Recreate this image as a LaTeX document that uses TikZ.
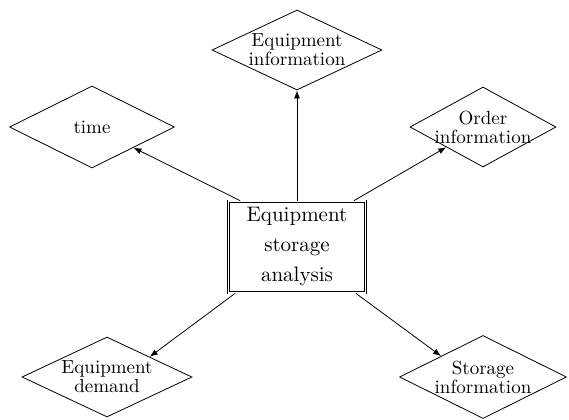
\documentclass[tikz,border=0pt]{standalone}
\usepackage{tikz}
\usetikzlibrary{%
    arrows.meta,
    shapes.geometric,
    positioning
}

\begin{document}
\begin{tikzpicture}[x=0.5pt, y=-0.5pt]
  \def\dh{40pt}
  \def\bw{68.5pt}
  \def\bh{44.5pt}

  \tikzset{
    entity/.style = { diamond, draw, thin, aspect=2
                    , inner xsep=-6pt, inner ysep=0pt, align=center
                    , font=\fontsize{9.5}{9.5}\selectfont, minimum height=\dh },
    core/.style   = { rectangle, draw, thin, double, double distance=0.7pt
                    , align=center, font=\fontsize{10.5}{15}\selectfont
                    , minimum width=\bw, minimum height=\bh },
    link/.style   = { -{Latex[length=4pt,width=3pt]}, thin }
  }

  \useasboundingbox (0,0) rectangle (569,419);

  \node[entity, minimum width=85pt] (equipinfo) at (297,50)
    {Equipment\\information};
  \node[entity, minimum width=82.5pt, minimum height=41pt] (time) at (92,127)
    {time};
  \node[entity, minimum width=73pt] (orderinfo) at (483,127)
    {Order\\information};
  \node[core] (analysis) at (297,247)
    {Equipment\\storage\\analysis};
  \node[entity, minimum width=85pt] (demand) at (107,377)
    {Equipment\\demand};
  \node[entity, minimum width=83.5pt, minimum height=41.5pt] (storeinfo) at (483,377)
    {Storage\\information};

  \draw[link] (analysis.north) -- (equipinfo.south);
  \draw[link] ([xshift=6pt]analysis.north west) -- (time.south east);
  \draw[link] ([xshift=-6pt]analysis.north east) -- (orderinfo.south west);
  \draw[link] ([xshift=3.5pt]analysis.south west) -- (demand.north east);
  \draw[link] ([xshift=-5pt]analysis.south east) -- (storeinfo.north west);
\end{tikzpicture}
\end{document}
